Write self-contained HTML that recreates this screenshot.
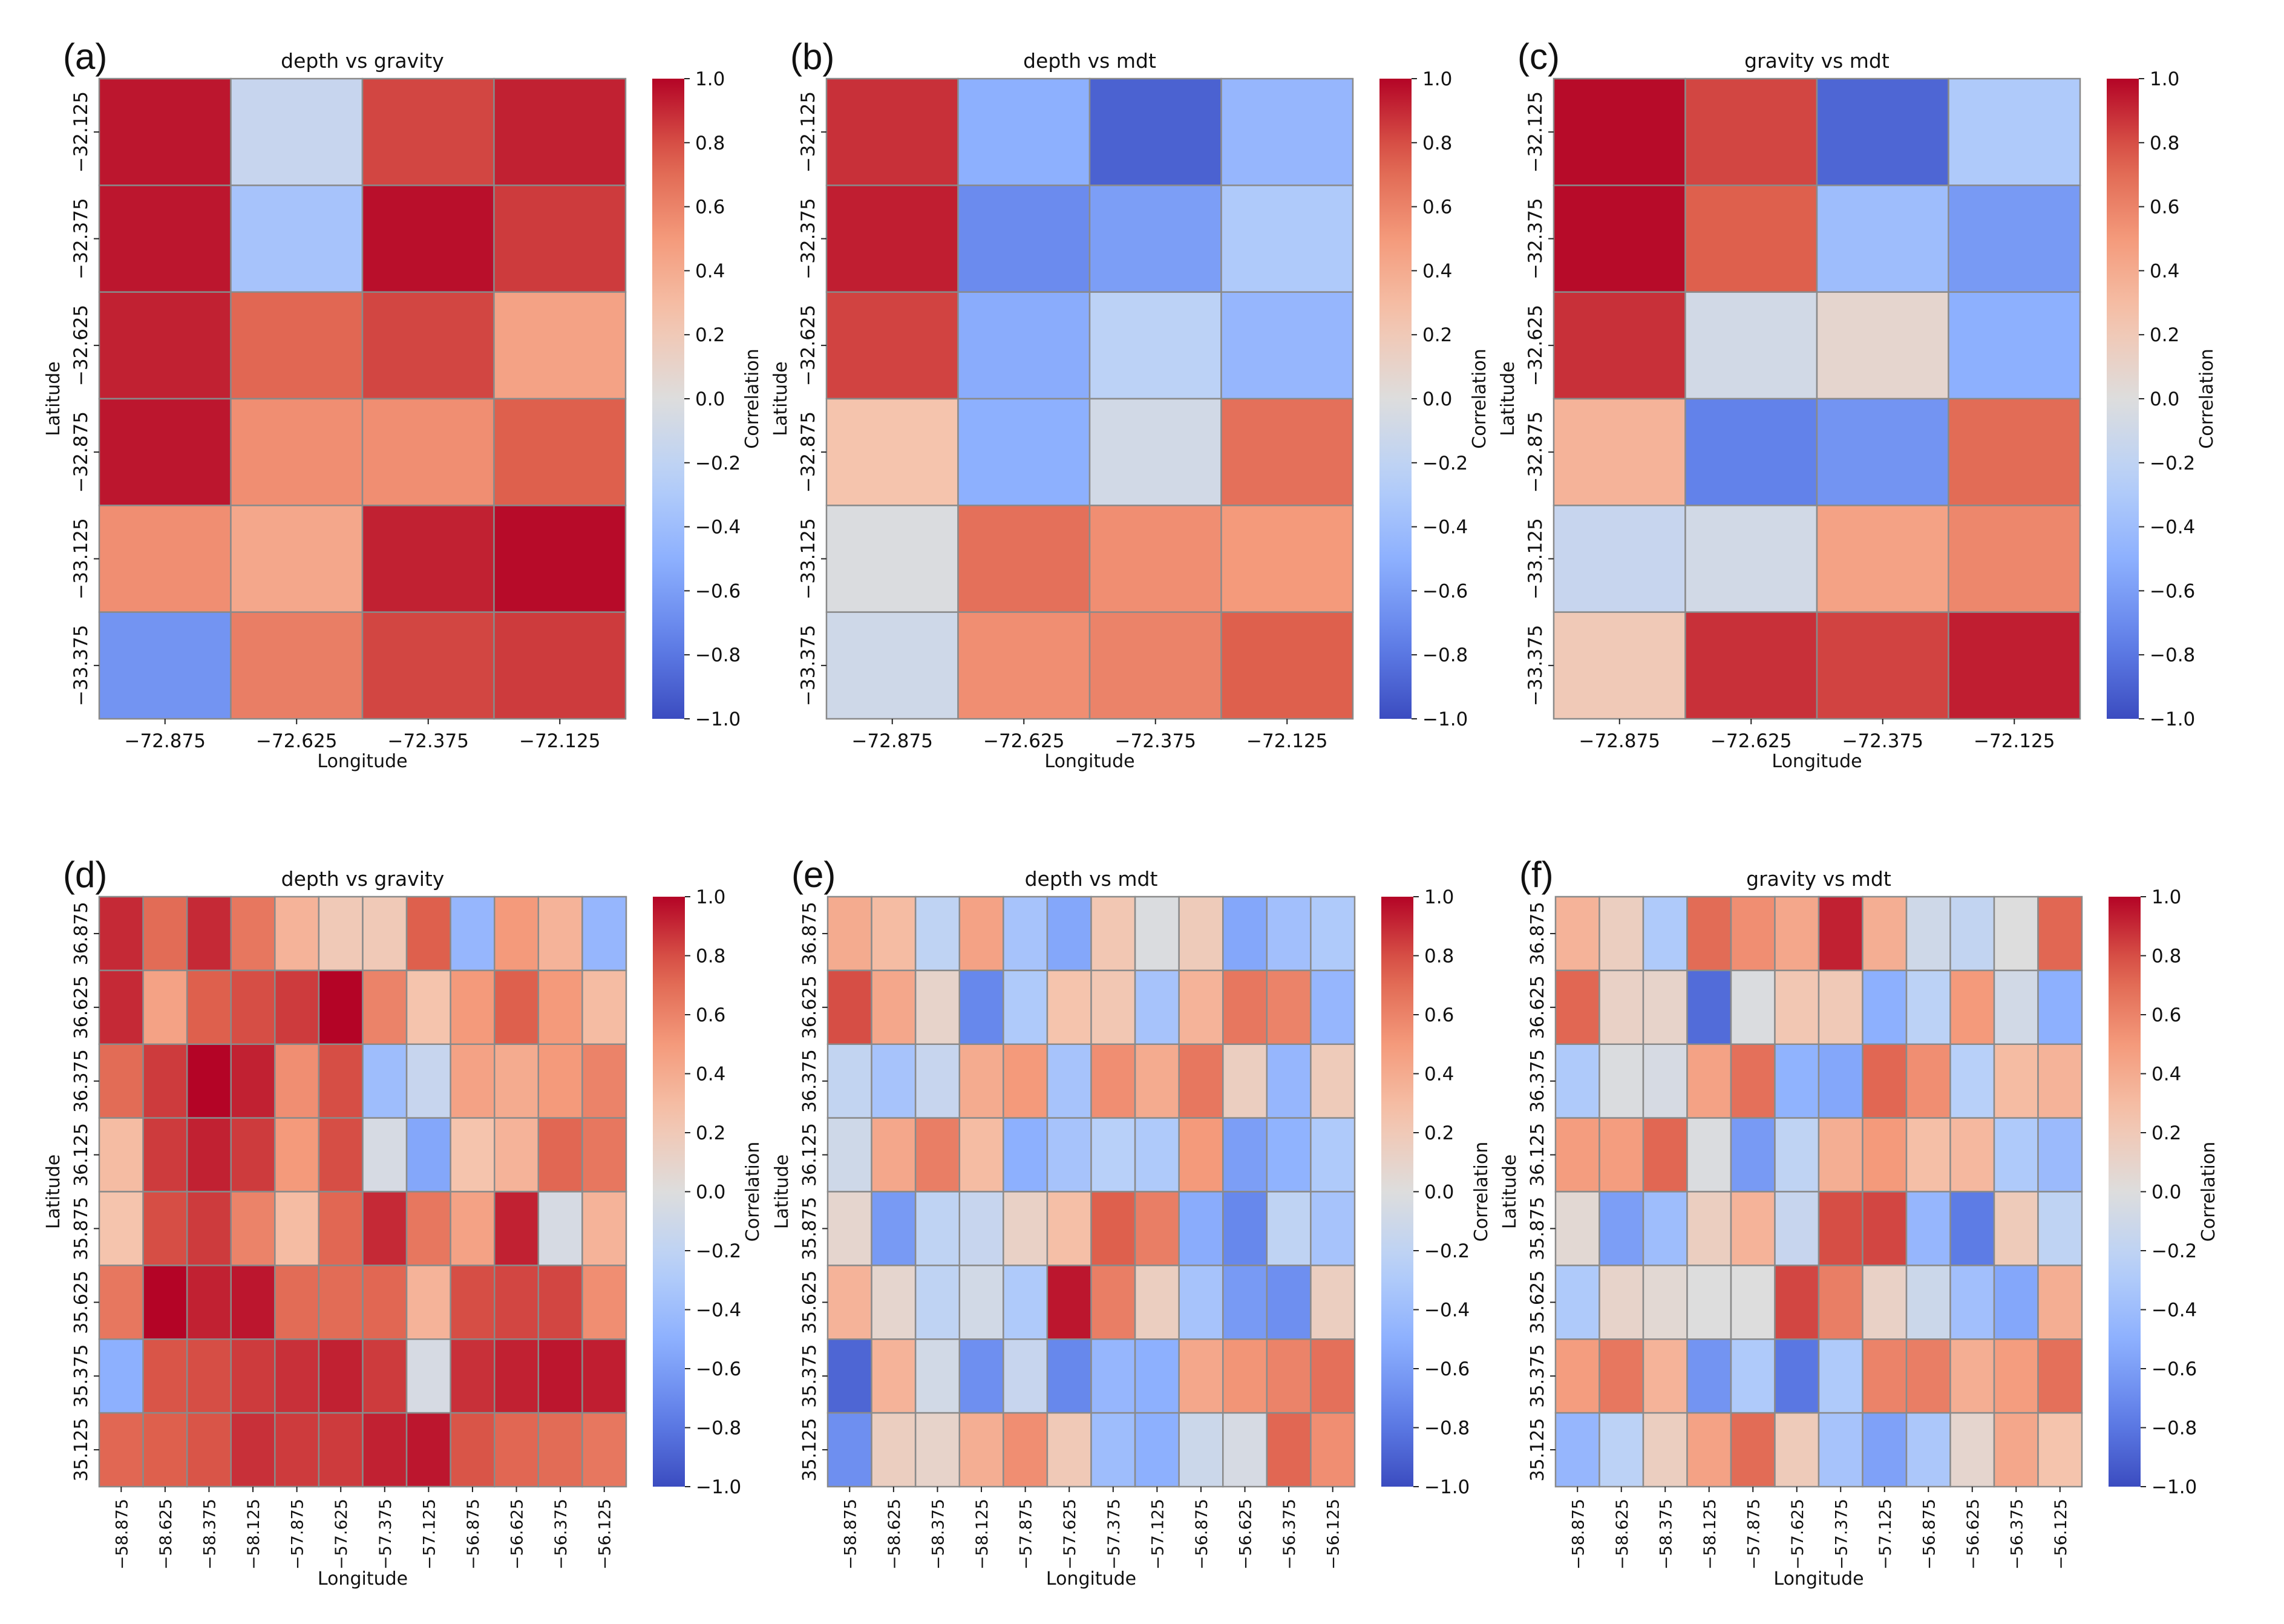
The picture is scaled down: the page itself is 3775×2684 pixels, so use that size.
<!DOCTYPE html>
<html><head><meta charset="utf-8">
<style>
html,body{margin:0;padding:0;background:#fff;}
svg{display:block;font-family:"DejaVu Sans","Liberation Sans",sans-serif;}
</style></head>
<body>
<svg id="fig" width="3775" height="2684" viewBox="0 0 3775 2684" xmlns="http://www.w3.org/2000/svg"></svg>
<script>
const latTop = ["−32.125","−32.375","−32.625","−32.875","−33.125","−33.375"];
const lonTop = ["−72.875","−72.625","−72.375","−72.125"];
const latBot = ["36.875","36.625","36.375","36.125","35.875","35.625","35.375","35.125"];
const lonBot = ["−58.875","−58.625","−58.375","−58.125","−57.875","−57.625","−57.375","−57.125","−56.875","−56.625","−56.375","−56.125"];
const cbTicks = [1.0,0.8,0.6,0.4,0.2,0.0,-0.2,-0.4,-0.6,-0.8,-1.0];

const valsA = [
[0.95,-0.15,0.82,0.92],
[0.95,-0.35,0.97,0.85],
[0.92,0.72,0.82,0.45],
[0.95,0.55,0.55,0.75],
[0.55,0.42,0.92,0.98],
[-0.65,0.62,0.82,0.85]];
const valsB = [
[0.88,-0.5,-0.9,-0.45],
[0.93,-0.7,-0.6,-0.3],
[0.83,-0.52,-0.22,-0.45],
[0.25,-0.5,-0.08,0.68],
[-0.02,0.68,0.55,0.5],
[-0.1,0.55,0.6,0.75]];
const valsC = [
[0.98,0.82,-0.88,-0.3],
[0.98,0.75,-0.4,-0.62],
[0.88,-0.08,0.08,-0.5],
[0.35,-0.75,-0.65,0.7],
[-0.15,-0.08,0.45,0.58],
[0.2,0.88,0.83,0.93]];
const valsD = [
[0.9,0.7,0.9,0.65,0.35,0.2,0.2,0.75,-0.45,0.5,0.35,-0.45],
[0.9,0.45,0.75,0.8,0.85,1.0,0.6,0.25,0.5,0.75,0.5,0.3],
[0.7,0.85,1.0,0.92,0.55,0.8,-0.4,-0.15,0.45,0.4,0.5,0.6],
[0.3,0.85,0.92,0.85,0.5,0.8,-0.05,-0.55,0.25,0.35,0.72,0.65],
[0.25,0.8,0.85,0.6,0.3,0.72,0.9,0.65,0.45,0.92,-0.05,0.35],
[0.65,1.0,0.92,0.95,0.7,0.7,0.72,0.35,0.8,0.82,0.82,0.55],
[-0.5,0.78,0.8,0.85,0.88,0.92,0.85,-0.05,0.88,0.92,0.95,0.93],
[0.72,0.75,0.78,0.88,0.85,0.85,0.92,0.95,0.78,0.72,0.7,0.65]];
const valsE = [
[0.4,0.3,-0.2,0.45,-0.35,-0.55,0.22,-0.02,0.18,-0.55,-0.38,-0.3],
[0.8,0.42,0.1,-0.72,-0.3,0.25,0.22,-0.35,0.35,0.65,0.6,-0.45],
[-0.18,-0.35,-0.15,0.4,0.5,-0.35,0.55,0.4,0.65,0.15,-0.45,0.18],
[-0.1,0.42,0.62,0.3,-0.5,-0.35,-0.25,-0.3,0.5,-0.6,-0.48,-0.3],
[0.08,-0.62,-0.2,-0.15,0.12,0.28,0.75,0.62,-0.52,-0.72,-0.2,-0.35],
[0.35,0.08,-0.2,-0.08,-0.3,0.95,0.62,0.15,-0.35,-0.62,-0.68,0.15],
[-0.88,0.35,-0.08,-0.68,-0.15,-0.72,-0.45,-0.5,0.42,0.52,0.6,0.68],
[-0.68,0.15,0.1,0.38,0.55,0.2,-0.4,-0.5,-0.12,-0.05,0.72,0.55]];
const valsF = [
[0.35,0.15,-0.3,0.7,0.55,0.42,0.92,0.38,-0.1,-0.18,0.0,0.72],
[0.72,0.12,0.1,-0.85,-0.02,0.22,0.2,-0.5,-0.22,0.5,-0.08,-0.5],
[-0.3,-0.02,-0.05,0.45,0.68,-0.48,-0.55,0.72,0.55,-0.25,0.3,0.35],
[0.48,0.48,0.72,-0.02,-0.62,-0.2,0.38,0.5,0.28,0.32,-0.3,-0.42],
[0.05,-0.6,-0.4,0.15,0.35,-0.15,0.8,0.82,-0.45,-0.78,0.18,-0.2],
[-0.3,0.1,0.05,0.0,0.0,0.82,0.62,0.12,-0.12,-0.38,-0.55,0.38],
[0.48,0.65,0.35,-0.65,-0.3,-0.8,-0.3,0.6,0.62,0.38,0.48,0.68],
[-0.45,-0.22,0.15,0.45,0.7,0.18,-0.35,-0.58,-0.32,0.08,0.42,0.25]];

const stops=[[-1,[59,76,192]],[-0.75,[98,130,234]],[-0.5,[141,176,254]],[-0.25,[184,208,249]],[0,[221,221,221]],[0.25,[245,196,173]],[0.5,[244,154,123]],[0.75,[222,96,77]],[1,[180,4,38]]];
function cmap(v){v=Math.max(-1,Math.min(1,v));for(let i=0;i<stops.length-1;i++){const[a,ca]=stops[i],[b,cb]=stops[i+1];if(v<=b){const t=(v-a)/(b-a);return 'rgb('+ca.map((c,k)=>Math.round(c+(cb[k]-c)*t)).join(',')+')';}}return 'rgb(180,4,38)';}

const NS="http://www.w3.org/2000/svg";
const svg=document.getElementById('fig');
function el(tag,attrs,parent,text){const e=document.createElementNS(NS,tag);for(const k in attrs)e.setAttribute(k,attrs[k]);if(text!==undefined)e.textContent=text;(parent||svg).appendChild(e);return e;}

const defs=el('defs',{});
const grad=el('linearGradient',{id:'cw',x1:0,y1:1,x2:0,y2:0},defs);
for(let i=0;i<=20;i++){const v=-1+i/10;el('stop',{offset:(i/20),'stop-color':cmap(v)},grad);}

const panels=[
 {id:'a',title:'depth vs gravity',vals:valsA,lat:latTop,lon:lonTop,x:164,y:130,w:870,h:1058,bottom:false},
 {id:'b',title:'depth vs mdt',vals:valsB,lat:latTop,lon:lonTop,x:1366,y:130,w:870,h:1058,bottom:false},
 {id:'c',title:'gravity vs mdt',vals:valsC,lat:latTop,lon:lonTop,x:2568,y:130,w:870,h:1058,bottom:false},
 {id:'d',title:'depth vs gravity',vals:valsD,lat:latBot,lon:lonBot,x:164,y:1482,w:871,h:975,bottom:true},
 {id:'e',title:'depth vs mdt',vals:valsE,lat:latBot,lon:lonBot,x:1368,y:1482,w:871,h:975,bottom:true},
 {id:'f',title:'gravity vs mdt',vals:valsF,lat:latBot,lon:lonBot,x:2571,y:1482,w:870,h:975,bottom:true}];

panels.forEach(p=>{
  const g=el('g',{});
  
  
  const rows=p.vals.length, cols=p.vals[0].length;
  const cw=p.w/cols, ch=p.h/rows;
  const xs=c=>p.x+c*cw, ys=r=>p.y+r*ch;
  p.vals.forEach((row,r)=>row.forEach((v,c)=>{
    const rc=el('rect',{x:xs(c),y:ys(r),width:cw,height:ch,fill:cmap(v),stroke:'#8a8a8a','stroke-width':2.5},g);
    
    
  }));
  const L=el('text',{x:p.x-60,y:p.y-16,'font-size':60,'font-family':'Liberation Sans, sans-serif',fill:'#111'},g,'('+p.id+')');
  
  
  const T=el('text',{x:p.x+p.w/2,y:p.y-18,'font-size':33,'text-anchor':'middle',fill:'#111'},g,p.title);
  
  
  p.lat.forEach((lab,r)=>{
    const cy=ys(r)+ch/2;
    el('line',{x1:p.x-9,x2:p.x,y1:cy,y2:cy,stroke:'#222','stroke-width':2},g);
    const t=el('text',{x:0,y:0,'font-size':p.bottom?30:31,'text-anchor':'middle',fill:'#111',transform:`translate(${p.x-20},${cy}) rotate(-90)`},g,lab);
    
    
  });
  p.lon.forEach((lab,c)=>{
    const cx=xs(c)+cw/2;
    el('line',{x1:cx,x2:cx,y1:p.y+p.h,y2:p.y+p.h+9,stroke:'#222','stroke-width':2},g);
    let t;
    if(p.bottom){t=el('text',{x:0,y:0,'font-size':27,'text-anchor':'end',fill:'#111',transform:`translate(${cx+10},${p.y+p.h+20}) rotate(-90)`},g,lab);}
    else{t=el('text',{x:cx,y:p.y+p.h+47,'font-size':31,'text-anchor':'middle',fill:'#111'},g,lab);}
    
    
  });
  const xl=el('text',{x:p.x+p.w/2,y:p.bottom?p.y+p.h+162:p.y+p.h+80,'font-size':30,'text-anchor':'middle',fill:'#111'},g,'Longitude');
  
  
  const yl=el('text',{x:0,y:0,'font-size':30,'text-anchor':'middle',fill:'#111',transform:`translate(${p.x-66},${p.y+p.h/2}) rotate(-90)`},g,'Latitude');
  
  
  const cbx=p.x+p.w+44, cbw=53;
  const cb=el('rect',{x:cbx,y:p.y,width:cbw,height:p.h,fill:'url(#cw)'},g);
  
  
  cbTicks.forEach(v=>{
    const ty=p.y+(1-v)/2*p.h;
    el('line',{x1:cbx+cbw,x2:cbx+cbw+9,y1:ty,y2:ty,stroke:'#222','stroke-width':2},g);
    const t=el('text',{x:cbx+cbw+18,y:ty+11,'font-size':31,fill:'#111'},g,(v<0?'−':'')+Math.abs(v).toFixed(1));
    
    
  });
  const cl=el('text',{x:0,y:0,'font-size':30,'text-anchor':'middle',fill:'#111',transform:`translate(${cbx+cbw+122},${p.y+p.h/2}) rotate(-90)`},g,'Correlation');
  
  
});
</script>
</body></html>
